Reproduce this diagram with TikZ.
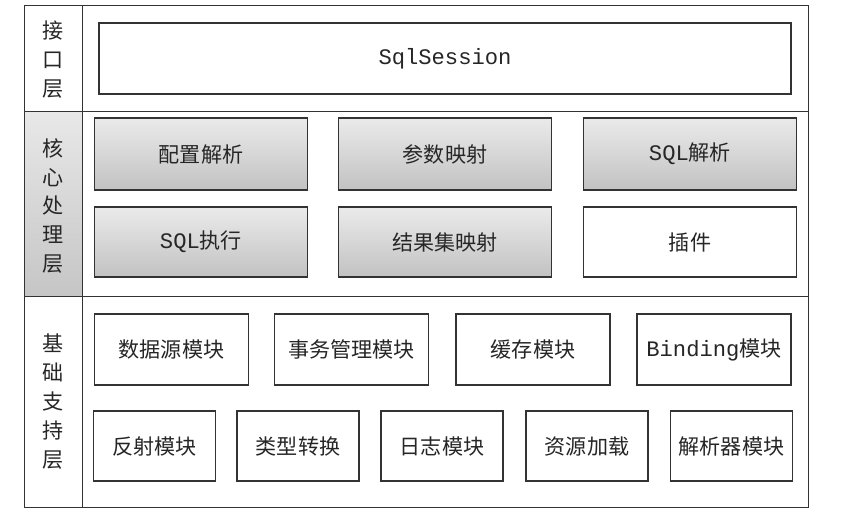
\documentclass[tikz,border=0pt]{standalone}
\usepackage{fontspec}
\setmainfont{Noto Sans CJK SC}
\setmonofont[Scale=1.05]{Liberation Mono}
\begin{document}
\begin{tikzpicture}[
		font=\fontsize{15pt}{20.6pt}\selectfont,
		frame/.style={draw=black!80, line width=0.7pt},
		modbox/.style={draw=black!80, line width=0.8pt, text=black!85, inner sep=0pt},
		coremod/.style={modbox, top color=gray!16, bottom color=gray!48, minimum width=5.325cm},
		basemod/.style={modbox, fill=white},
		layertag/.style={align=center, text=black!85, inner sep=0pt}
	]
		\useasboundingbox (0,0) rectangle (21.425,-12.95);
		% layer frame
		\shade[top color=gray!18, bottom color=gray!45] (0.6,-2.775) rectangle (2.05,-7.4);
		\draw[frame] (0.6,-0.125) rectangle (20.2,-12.675);
		\draw[frame] (2.05,-0.125) -- (2.05,-12.675);
		\draw[frame] (0.6,-2.775) -- (20.2,-2.775);
		\draw[frame] (0.6,-7.4) -- (20.2,-7.4);
		\node[layertag] (apiTag) at (1.325,-1.5) {接\\口\\层};
		\node[layertag] (coreTag) at (1.325,-5.15) {核\\心\\处\\理\\层};
		\node[layertag] (baseTag) at (1.325,-10.04) {基\\础\\支\\持\\层};
		% interface layer
		\node[basemod, minimum width=17.3cm, minimum height=1.775cm] (sqlSession) at (11.125,-1.4625) {\texttt{SqlSession}};
		% core layer
		\node[coremod, minimum height=1.8cm] (configParse) at (5.025,-3.85) {配置解析};
		\node[coremod, minimum height=1.8cm] (paramMap) at (11.125,-3.85) {参数映射};
		\node[coremod, minimum height=1.8cm] (sqlParse) at (17.25,-3.85) {\texttt{SQL}解析};
		\node[coremod, minimum height=1.75cm] (sqlExec) at (5.025,-6.05) {\texttt{SQL}执行};
		\node[coremod, minimum height=1.75cm] (resultMap) at (11.125,-6.05) {结果集映射};
		\node[basemod, minimum width=5.325cm, minimum height=1.75cm] (plugin) at (17.25,-6.05) {插件};
		% base layer
		\node[basemod, minimum width=3.85cm, minimum height=1.775cm] (dataSource) at (4.2875,-8.7375) {数据源模块};
		\node[basemod, minimum width=3.85cm, minimum height=1.775cm] (transaction) at (8.7875,-8.7375) {事务管理模块};
		\node[basemod, minimum width=3.85cm, minimum height=1.775cm] (cache) at (13.325,-8.7375) {缓存模块};
		\node[basemod, minimum width=3.85cm, minimum height=1.775cm] (binding) at (17.85,-8.7375) {\texttt{Binding}模块};
		\node[basemod, minimum width=3.05cm, minimum height=1.75cm] (reflection) at (3.8625,-11.15) {反射模块};
		\node[basemod, minimum width=3.05cm, minimum height=1.75cm] (typeConv) at (7.45,-11.15) {类型转换};
		\node[basemod, minimum width=3.05cm, minimum height=1.75cm] (logging) at (11.05,-11.15) {日志模块};
		\node[basemod, minimum width=3.05cm, minimum height=1.75cm] (resLoad) at (14.675,-11.15) {资源加载};
		\node[basemod, minimum width=3.05cm, minimum height=1.75cm] (parser) at (18.2875,-11.15) {解析器模块};
	\end{tikzpicture}
\end{document}
